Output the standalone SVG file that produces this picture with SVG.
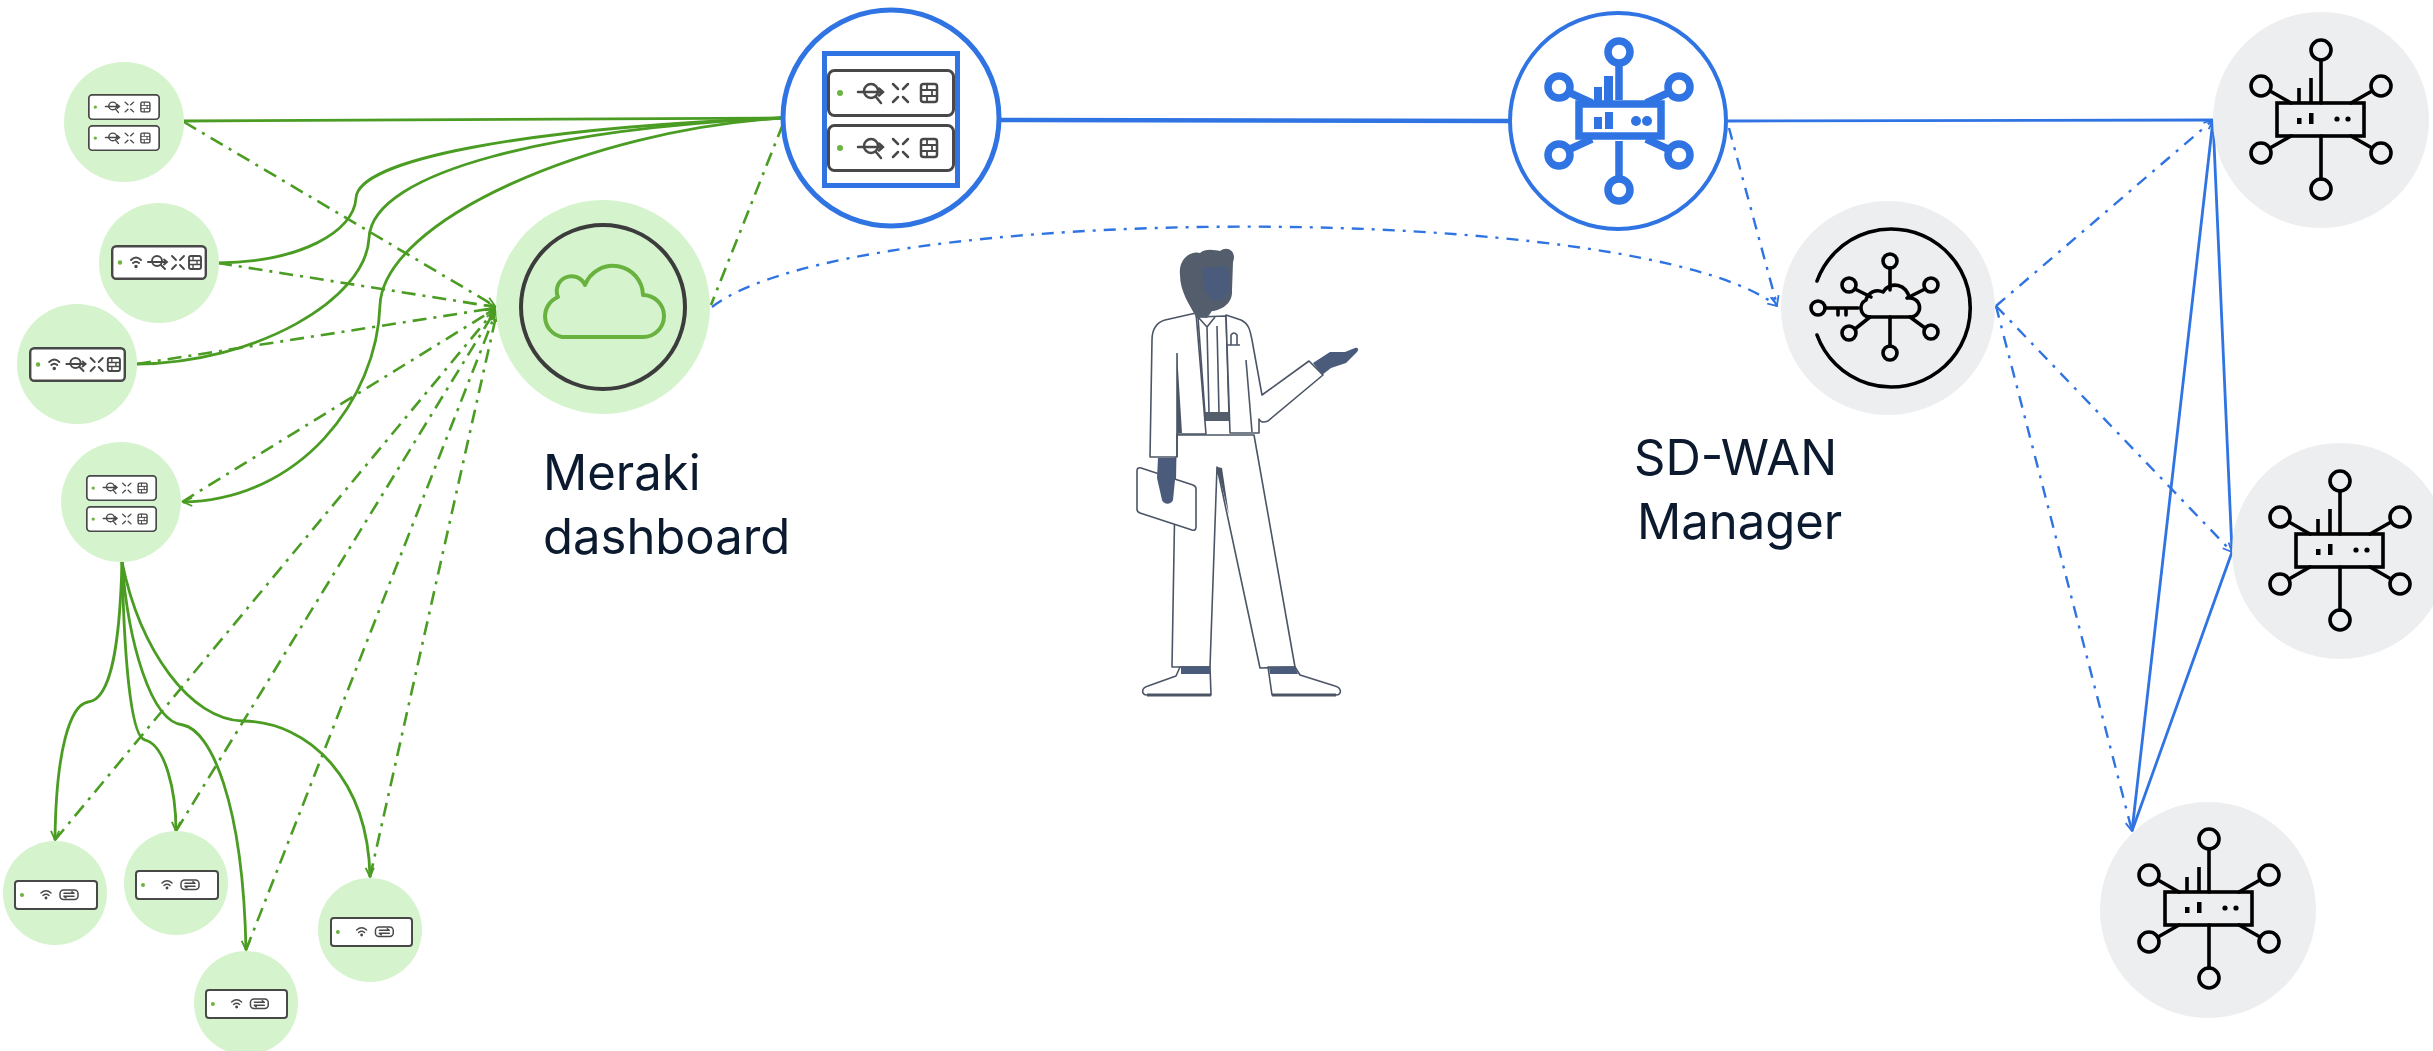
<svg xmlns="http://www.w3.org/2000/svg" xmlns:xlink="http://www.w3.org/1999/xlink" width="2433" height="1051" viewBox="0 0 2433 1051">
  <style>
    .g-solid { fill: none; stroke: #4a9c22; stroke-width: 2.8; }
    .g-dash { fill: none; stroke: #4a9c22; stroke-width: 2.6; stroke-dasharray: 14 7 3 7; }
    .b-solid { fill: none; stroke: #2f74e2; stroke-width: 2.8; }
    .b-trunk { fill: none; stroke: #2f74e2; stroke-width: 4.6; }
    .b-dash { fill: none; stroke: #2f74e2; stroke-width: 2.4; stroke-dasharray: 12 8 3 8; }
    .leaf { fill: #d5f3cc; }
    .grey { fill: #edeef0; }
    .ico { fill: none; stroke: #000; stroke-width: 3.6; stroke-linecap: round; }
    .label { font-family: Inter, "Noto Sans", "Liberation Sans", sans-serif; font-size: 49px; fill: #0b1a2f; }
    .fig { stroke: #4b5566; stroke-width: 1.6; stroke-linejoin: round; }
  </style>
  <defs>
    <marker id="ag" viewBox="0 0 12 12" refX="11" refY="6" markerWidth="11" markerHeight="11" markerUnits="userSpaceOnUse" orient="auto">
      <path d="M1,1.5 L11,6 L1,10.5" fill="none" stroke="#4a9c22" stroke-width="2"/>
    </marker>
    <marker id="ab" viewBox="0 0 12 12" refX="11" refY="6" markerWidth="11" markerHeight="11" markerUnits="userSpaceOnUse" orient="auto">
      <path d="M1,1.5 L11,6 L1,10.5" fill="none" stroke="#2f74e2" stroke-width="2"/>
    </marker>

    <!-- security appliance unit: status led, VPN, compress, firewall -->
    <symbol id="mx-unit" viewBox="0 0 128 48" preserveAspectRatio="none">
      <rect x="1.5" y="1.5" width="125" height="45" rx="6" fill="#fff" stroke="#484848" stroke-width="3"/>
      <circle cx="13" cy="24" r="3" fill="#6cb33f"/>
      <g fill="none" stroke="#484848" stroke-width="2.5" stroke-linecap="round">
        <circle cx="44" cy="22" r="7"/>
        <path d="M31,23 H56 M52,19.5 L56,23 L52,26.5 M49,28 L54,34"/>
        <path d="M66,15 L71,20 M81,15 L76,20 M66,33 L71,28 M81,33 L76,28"/>
        <rect x="94" y="15" width="16" height="18" rx="2.5"/>
        <path d="M94,21 H110 M94,27 H110 M100,15 V21 M105,21 V27 M100,27 V33" stroke-width="1.8"/>
      </g>
    </symbol>

    <!-- appliance unit with wireless -->
    <symbol id="mx-unit-w" viewBox="0 0 96 35" preserveAspectRatio="none">
      <rect x="1.2" y="1.2" width="93.6" height="32.6" rx="4" fill="#fff" stroke="#484848" stroke-width="2.4"/>
      <circle cx="9" cy="17.5" r="2.2" fill="#6cb33f"/>
      <g fill="none" stroke="#484848" stroke-width="1.9" stroke-linecap="round">
        <path d="M20,15 Q25,10 30,15 M22,18 Q25,15.5 28,18"/>
        <circle cx="25" cy="21.5" r="0.8" fill="#484848"/>
        <circle cx="46" cy="16" r="5"/>
        <path d="M37,17 H56 M53,14.5 L56,17 L53,19.5 M50,20 L54,24"/>
        <path d="M61,11 L65,15 M73,11 L69,15 M61,24 L65,20 M73,24 L69,20"/>
        <rect x="78" y="11" width="12" height="13" rx="2"/>
        <path d="M78,15.5 H90 M78,19.5 H90 M82,11 V15.5 M86,15.5 V19.5 M82,19.5 V24" stroke-width="1.3"/>
      </g>
    </symbol>

    <!-- access point / switch unit -->
    <symbol id="ap-unit" viewBox="0 0 84 30" preserveAspectRatio="none">
      <rect x="1" y="1" width="82" height="28" rx="3" fill="#fff" stroke="#484848" stroke-width="2"/>
      <circle cx="8" cy="15" r="2" fill="#6cb33f"/>
      <g fill="none" stroke="#484848" stroke-width="1.5" stroke-linecap="round">
        <path d="M27,13 Q32,8.5 37,13 M29,15.5 Q32,13 35,15.5"/>
        <circle cx="32" cy="18" r="0.7" fill="#484848"/>
        <rect x="46" y="10" width="18" height="9.5" rx="3.5"/>
        <path d="M50,13.3 H60 M58,11.8 L60,13.3 M60,16.3 H50 M52,17.8 L50,16.3"/>
      </g>
    </symbol>

    <!-- edge router glyph, centred on 0,0 -->
    <g id="router-glyph">
      <rect x="-44" y="-17" width="87" height="33" class="ico" stroke-linecap="butt"/>
      <path class="ico" d="M0,-60 V-17 M0,16 V59 M-51,-29 L-30,-17 M51,-29 L30,-17 M-51,28 L-30,16 M51,28 L30,16"/>
      <circle class="ico" cx="0" cy="-70" r="10"/>
      <circle class="ico" cx="-60" cy="-34" r="10"/>
      <circle class="ico" cx="60" cy="-34" r="10"/>
      <circle class="ico" cx="-60" cy="33" r="10"/>
      <circle class="ico" cx="60" cy="33" r="10"/>
      <circle class="ico" cx="0" cy="69" r="10"/>
      <path d="M-22,-32 V-17 M-10,-42 V-17" stroke="#000" stroke-width="3.6"/>
      <rect x="-24" y="-2" width="4.5" height="6" fill="#000"/>
      <rect x="-12" y="-7" width="4.5" height="11" fill="#000"/>
      <circle cx="16" cy="-1" r="2.6" fill="#000"/>
      <circle cx="27" cy="-1" r="2.6" fill="#000"/>
    </g>
  </defs>

  <rect width="2433" height="1051" fill="#fff"/>

  <!-- connectors -->
  <g id="connectors">
    <!-- appliance uplinks to the security appliance -->
    <path class="g-solid" d="M184,121 L782,118"/>
    <path class="g-solid" d="M218,263 C300,262 354,232 356,198 C358,160 520,128 782,118"/>
    <path class="g-solid" d="M137,364 C255,363 366,300 369,238 C372,170 560,128 782,118"/>
    <path class="g-solid" d="M782,118 C590,130 384,220 380,305 C377,400 300,500 183,502" marker-end="url(#ag)"/>
    <!-- branch to access points -->
    <path class="g-solid" d="M122,562 C120,640 112,700 88,702 C70,705 56,750 55,840" marker-end="url(#ag)"/>
    <path class="g-solid" d="M122,562 C124,650 130,738 145,740 C165,745 176,790 176,831" marker-end="url(#ag)"/>
    <path class="g-solid" d="M122,562 C128,640 150,722 183,725 C210,730 243,800 246,950" marker-end="url(#ag)"/>
    <path class="g-solid" d="M122,562 C140,650 190,720 243,721 C310,722 368,780 370,877" marker-end="url(#ag)"/>
    <!-- cloud management sessions -->
    <path class="g-dash" d="M184,122 L495,306" marker-end="url(#ag)"/>
    <path class="g-dash" d="M218,263 L495,307" marker-end="url(#ag)"/>
    <path class="g-dash" d="M137,364 L495,308" marker-end="url(#ag)"/>
    <path class="g-dash" d="M182,502 L495,309" marker-end="url(#ag)"/>
    <path class="g-dash" d="M55,840 L495,310" marker-end="url(#ag)"/>
    <path class="g-dash" d="M176,831 L495,311" marker-end="url(#ag)"/>
    <path class="g-dash" d="M246,950 L496,312" marker-end="url(#ag)"/>
    <path class="g-dash" d="M370,877 L497,312" marker-end="url(#ag)"/>
    <path class="g-dash" d="M783,124 L711,305"/>
    <!-- WAN side -->
    <path class="b-trunk" d="M1000,120 L1510,121"/>
    <path class="b-solid" d="M1728,121 L2213,120"/>
    <path class="b-dash" d="M712,307 C850,200 1640,200 1777,306" marker-end="url(#ab)"/>
    <path class="b-dash" d="M1729,128 L1777,305" marker-end="url(#ab)"/>
    <path class="b-dash" d="M1996,306 L2213,120" marker-end="url(#ab)"/>
    <path class="b-dash" d="M1996,306 L2232,552" marker-end="url(#ab)"/>
    <path class="b-dash" d="M1996,306 L2132,831" marker-end="url(#ab)"/>
    <path class="b-solid" d="M2213,120 L2232,552"/>
    <path class="b-solid" d="M2213,120 L2132,831"/>
    <path class="b-solid" d="M2232,552 L2132,831"/>
  </g>

  <!-- branch appliances -->
  <g id="mx-pair-1">
    <circle class="leaf" cx="124" cy="122" r="60"/>
    <use href="#mx-unit" x="88" y="94" width="72" height="26"/>
    <use href="#mx-unit" x="88" y="125" width="72" height="26"/>
  </g>
  <g id="mx-wireless-1">
    <circle class="leaf" cx="159" cy="263" r="60"/>
    <use href="#mx-unit-w" x="111" y="245" width="96" height="35"/>
  </g>
  <g id="mx-wireless-2">
    <circle class="leaf" cx="77" cy="364" r="60"/>
    <use href="#mx-unit-w" x="29" y="347" width="97" height="35"/>
  </g>
  <g id="mx-pair-2">
    <circle class="leaf" cx="121" cy="502" r="60"/>
    <use href="#mx-unit" x="86" y="475" width="71" height="26"/>
    <use href="#mx-unit" x="86" y="506" width="71" height="26"/>
  </g>

  <!-- access points -->
  <g id="ap-1">
    <circle class="leaf" cx="55" cy="893" r="52"/>
    <use href="#ap-unit" x="14" y="880" width="84" height="30"/>
  </g>
  <g id="ap-2">
    <circle class="leaf" cx="176" cy="883" r="52"/>
    <use href="#ap-unit" x="135" y="870" width="84" height="30"/>
  </g>
  <g id="ap-3">
    <circle class="leaf" cx="246" cy="1003" r="52"/>
    <use href="#ap-unit" x="205" y="989" width="83" height="30"/>
  </g>
  <g id="ap-4">
    <circle class="leaf" cx="370" cy="930" r="52"/>
    <use href="#ap-unit" x="330" y="917" width="83" height="30"/>
  </g>

  <!-- Meraki dashboard -->
  <g id="meraki-dashboard">
    <circle class="leaf" cx="603" cy="307" r="107"/>
    <circle cx="603" cy="307" r="82" fill="none" stroke="#3c3c3c" stroke-width="4"/>
    <path d="M562,337 A21,21 0 0 1 558,297 A14.5,14.5 0 0 1 585,285 A30,30 0 0 1 643,295 A21,21 0 0 1 643,337 Z" fill="none" stroke="#6ab240" stroke-width="4" stroke-linejoin="round"/>
    <text class="label" x="543" y="490">Meraki</text>
    <text class="label" x="543" y="554">dashboard</text>
  </g>

  <!-- hub security appliance -->
  <g id="hub-mx">
    <circle cx="891" cy="118" r="108" fill="#fff" stroke="#2f74e2" stroke-width="5"/>
    <rect x="824.5" y="53.5" width="133" height="132" fill="#fff" stroke="#2f74e2" stroke-width="5"/>
    <use href="#mx-unit" x="827" y="69" width="128" height="48"/>
    <use href="#mx-unit" x="827" y="124" width="128" height="48"/>
  </g>

  <!-- SD-WAN hub router -->
  <g id="sdwan-router">
    <circle cx="1618" cy="121" r="108" fill="#fff" stroke="#2f74e2" stroke-width="4"/>
    <g fill="none" stroke="#2f74e2" stroke-width="7.5" stroke-linecap="butt">
      <path d="M1619,63 V100 M1619,141 V179 M1568,92 L1592,103 M1670,92 L1646,103 M1568,150 L1592,139 M1670,150 L1646,139"/>
      <circle cx="1619" cy="52" r="11"/>
      <circle cx="1559" cy="87" r="11"/>
      <circle cx="1679" cy="87" r="11"/>
      <circle cx="1559" cy="155" r="11"/>
      <circle cx="1679" cy="155" r="11"/>
      <circle cx="1619" cy="190" r="11"/>
      <rect x="1579" y="104" width="82" height="32" fill="#fff"/>
    </g>
    <g fill="#2f74e2">
      <rect x="1594" y="87" width="8" height="14"/>
      <rect x="1604" y="76" width="9" height="25"/>
      <rect x="1594" y="117" width="8" height="12"/>
      <rect x="1605" y="112" width="8" height="17"/>
      <circle cx="1636" cy="121" r="5"/>
      <circle cx="1647" cy="121" r="5"/>
    </g>
  </g>

  <!-- SD-WAN Manager -->
  <g id="sdwan-manager">
    <circle class="grey" cx="1888" cy="308" r="107"/>
    <path class="ico" d="M1817,281 A79,79 0 1 1 1817,335"/>
    <path class="ico" d="M1869,317 A9,9 0 0 1 1866,300 A12,12 0 0 1 1883,292 A14,14 0 0 1 1909,298 A9.5,9.5 0 0 1 1911,317 Z" stroke-linejoin="round"/>
    <path class="ico" d="M1890,268 V290 M1890,317 V346 M1855,289 L1871,297 M1925,289 L1907,298 M1855,329 L1870,317 M1925,328 L1910,317"/>
    <circle class="ico" cx="1890" cy="261" r="7"/>
    <circle class="ico" cx="1849" cy="285" r="7"/>
    <circle class="ico" cx="1931" cy="285" r="7"/>
    <circle class="ico" cx="1849" cy="333" r="7"/>
    <circle class="ico" cx="1931" cy="332" r="7"/>
    <circle class="ico" cx="1890" cy="353" r="7"/>
    <circle class="ico" cx="1818" cy="308" r="7"/>
    <path class="ico" d="M1825,308 H1858 M1838,308 V315 M1846,308 V315" stroke-linecap="butt"/>
    <text class="label" x="1634" y="475">SD-WAN</text>
    <text class="label" x="1637" y="539">Manager</text>
  </g>

  <!-- edge routers -->
  <g id="edge-router-1">
    <circle class="grey" cx="2321" cy="120" r="108"/>
    <use href="#router-glyph" transform="translate(2321,120)"/>
  </g>
  <g id="edge-router-2">
    <circle class="grey" cx="2340" cy="551" r="108"/>
    <use href="#router-glyph" transform="translate(2340,551)"/>
  </g>
  <g id="edge-router-3">
    <circle class="grey" cx="2208" cy="910" r="108"/>
    <use href="#router-glyph" transform="translate(2209,909)"/>
  </g>

  <!-- network administrator figure -->
  <g id="person">
    <!-- trousers -->
    <path class="fig" fill="#fff" d="M1176,435 L1172,667 L1210,667 L1217,467 L1260,668 L1295,667 L1254,435 Z"/>
    <path d="M1217,467 L1229,515 L1222,468 Z" fill="#4b5566"/>
    <!-- shoes -->
    <path class="fig" fill="#fff" d="M1180,667 L1210,667 L1211,695 L1147,695 C1141,695 1141,688 1148,686 L1176,676 Z"/>
    <path d="M1181,667 L1210,667 L1210,674 L1181,674 Z" fill="#4a5b7b"/>
    <path class="fig" fill="#fff" d="M1268,667 L1295,667 L1300,675 L1335,686 C1342,688 1342,695 1336,695 L1272,695 Z"/>
    <path d="M1269,667 L1295,667 L1298,674 L1270,674 Z" fill="#4a5b7b"/>
    <path d="M1147,695 H1211 M1272,695 H1336" stroke="#4b5566" stroke-width="3"/>
    <!-- shirt and belt -->
    <path class="fig" fill="#fff" d="M1198,317 L1226,316 L1229,414 L1205,414 Z"/>
    <path class="fig" fill="none" d="M1198,317 L1207,327 L1215,317 M1207,327 L1209,413 M1217,326 L1219,413"/>
    <rect x="1204" y="412" width="26" height="9" fill="#535d6c"/>
    <!-- jacket, left side with hanging sleeve -->
    <path class="fig" fill="#fff" d="M1196,313 L1165,320 C1155,323 1152,330 1152,340 L1150,457 L1177,457 L1177,434 L1206,434 Z"/>
    <path d="M1177,353 L1182,433 L1177,433 Z" fill="#4b5566"/>
    <path class="fig" fill="none" d="M1177,353 L1177,457"/>
    <!-- jacket, right side with raised arm -->
    <path class="fig" fill="#fff" d="M1226,315 L1241,320 C1249,324 1250,330 1252,340 L1262,395 L1309,361 L1323,375 L1268,421 C1263,423 1260,422 1259,419 L1259,433 L1230,433 Z"/>
    <path class="fig" fill="none" d="M1246,360 L1252,432"/>
    <!-- pocket pen -->
    <path class="fig" fill="none" d="M1226,345 H1240 M1231,345 V335 Q1234,331 1237,335 V345"/>
    <!-- right hand -->
    <path d="M1313,363 L1330,352 L1345,352 L1355,348 C1359,347 1359,351 1356,353 L1346,363 L1331,368 L1322,375 Z" fill="#4a5b7b"/>
    <!-- tablet and left hand -->
    <path class="fig" fill="#fff" d="M1141,468 L1193,485 Q1196,486 1196,489 L1196,527 Q1196,531 1192,530 L1140,513 Q1137,512 1137,509 L1137,471 Q1137,467 1141,468 Z"/>
    <path d="M1158,458 L1175,458 L1176,470 L1173,500 C1171,505 1164,505 1162,500 L1157,478 Z" fill="#4a5b7b"/>
    <!-- head -->
    <path d="M1180,275 C1178,258 1192,250 1200,253 C1205,248 1215,250 1220,251 C1228,245 1237,252 1233,262 L1232,290 C1233,303 1222,310 1212,311 L1207,318 L1196,317 C1190,305 1180,292 1180,275 Z" fill="#535d6c"/>
    <path d="M1202,268 L1228,266 L1230,289 C1227,299 1218,303 1211,299 L1204,289 Z" fill="#4a5b7b"/>
  </g>
</svg>
